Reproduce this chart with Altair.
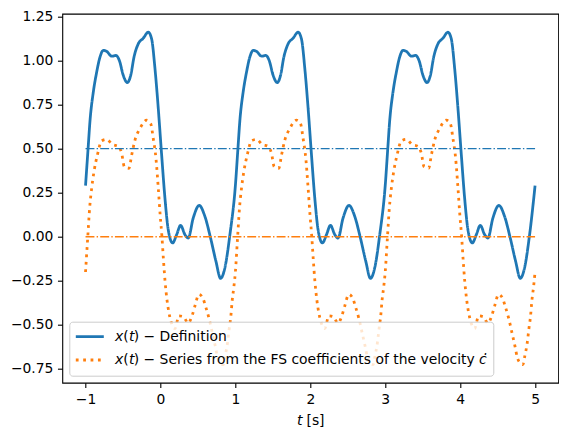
import altair as alt
import pandas as pd

# ---- x(t) - Definition ----
t_def = [
    -1.000, -0.966, -0.940, -0.896, -0.851, -0.807, -0.762, -0.717, -0.651, -0.593, -0.549, -0.496, -0.442,
    -0.397, -0.353, -0.296, -0.229, -0.163, -0.118, -0.073, -0.029, 0.016, 0.060, 0.104, 0.162, 0.216,
    0.269, 0.327, 0.371, 0.437, 0.517, 0.593, 0.669, 0.740, 0.803, 0.860, 0.927,
    1.000, 1.034, 1.060, 1.104, 1.149, 1.193, 1.238, 1.283, 1.349, 1.407, 1.451, 1.504, 1.558,
    1.603, 1.647, 1.704, 1.771, 1.837, 1.882, 1.927, 1.971, 2.016, 2.060, 2.104, 2.162, 2.216,
    2.269, 2.327, 2.371, 2.437, 2.517, 2.593, 2.669, 2.740, 2.803, 2.860, 2.927,
    3.000, 3.034, 3.060, 3.104, 3.149, 3.193, 3.238, 3.283, 3.349, 3.407, 3.451, 3.504, 3.558,
    3.603, 3.647, 3.704, 3.771, 3.837, 3.882, 3.927, 3.971, 4.016, 4.060, 4.104, 4.162, 4.216,
    4.269, 4.327, 4.371, 4.437, 4.517, 4.593, 4.669, 4.740, 4.803, 4.860, 4.927, 5.000,
]
x_def = [
    0.290, 0.500, 0.660, 0.822, 0.935, 1.020, 1.058, 1.052, 1.025, 1.029, 1.001, 0.916, 0.875,
    0.916, 1.020, 1.095, 1.127, 1.161, 1.123, 0.954, 0.728, 0.464, 0.219, 0.040, -0.035, 0.012,
    0.065, 0.012, -0.007, 0.106, 0.178, 0.116, -0.007, -0.138, -0.236, -0.176, 0.012,
    0.290, 0.500, 0.660, 0.822, 0.935, 1.020, 1.058, 1.052, 1.025, 1.029, 1.001, 0.916, 0.875,
    0.916, 1.020, 1.095, 1.127, 1.161, 1.123, 0.954, 0.728, 0.464, 0.219, 0.040, -0.035, 0.012,
    0.065, 0.012, -0.007, 0.106, 0.178, 0.116, -0.007, -0.138, -0.236, -0.176, 0.012,
    0.290, 0.500, 0.660, 0.822, 0.935, 1.020, 1.058, 1.052, 1.025, 1.029, 1.001, 0.916, 0.875,
    0.916, 1.020, 1.095, 1.127, 1.161, 1.123, 0.954, 0.728, 0.464, 0.219, 0.040, -0.035, 0.012,
    0.065, 0.012, -0.007, 0.106, 0.178, 0.116, -0.007, -0.138, -0.236, -0.176, 0.012, 0.290,
]

# ---- x(t) - Series from the FS coefficients of the velocity ----
t_fs = [
    -1.000, -0.970, -0.945, -0.918, -0.887, -0.842, -0.784, -0.717, -0.642, -0.562, -0.518, -0.482, -0.420,
    -0.384, -0.340, -0.273, -0.184, -0.131, -0.096, -0.060, -0.029, -0.005, 0.020, 0.040, 0.062, 0.088,
    0.113, 0.140, 0.193, 0.247, 0.304, 0.371, 0.424, 0.460, 0.513, 0.563, 0.607, 0.651, 0.696,
    0.731, 0.763, 0.803, 0.837, 0.864, 0.896, 0.917, 0.940, 0.957, 0.980,
    1.000, 1.030, 1.055, 1.082, 1.113, 1.158, 1.216, 1.283, 1.358, 1.438, 1.482, 1.518, 1.580,
    1.616, 1.660, 1.727, 1.816, 1.869, 1.904, 1.940, 1.971, 1.995, 2.020, 2.040, 2.062, 2.088,
    2.113, 2.140, 2.193, 2.247, 2.304, 2.371, 2.424, 2.460, 2.513, 2.563, 2.607, 2.651, 2.696,
    2.731, 2.763, 2.803, 2.837, 2.864, 2.896, 2.917, 2.940, 2.957, 2.980,
    3.000, 3.030, 3.055, 3.082, 3.113, 3.158, 3.216, 3.283, 3.358, 3.438, 3.482, 3.518, 3.580,
    3.616, 3.660, 3.727, 3.816, 3.869, 3.904, 3.940, 3.971, 3.995, 4.020, 4.040, 4.062, 4.088,
    4.113, 4.140, 4.193, 4.247, 4.304, 4.371, 4.424, 4.460, 4.513, 4.563, 4.607, 4.651, 4.696,
    4.731, 4.763, 4.803, 4.837, 4.864, 4.896, 4.917, 4.940, 4.957, 4.980, 5.000,
]
x_fs = [
    -0.200, 0.000, 0.163, 0.276, 0.370, 0.464, 0.545, 0.553, 0.524, 0.513, 0.474, 0.398, 0.389,
    0.464, 0.549, 0.615, 0.662, 0.643, 0.558, 0.445, 0.276, 0.130, 0.000, -0.130, -0.255, -0.360,
    -0.430, -0.480, -0.521, -0.449, -0.453, -0.490, -0.445, -0.393, -0.327, -0.346, -0.402, -0.468, -0.553,
    -0.619, -0.685, -0.717, -0.726, -0.675, -0.600, -0.524, -0.449, -0.364, -0.284,
    -0.200, 0.000, 0.163, 0.276, 0.370, 0.464, 0.545, 0.553, 0.524, 0.513, 0.474, 0.398, 0.389,
    0.464, 0.549, 0.615, 0.662, 0.643, 0.558, 0.445, 0.276, 0.130, 0.000, -0.130, -0.255, -0.360,
    -0.430, -0.480, -0.521, -0.449, -0.453, -0.490, -0.445, -0.393, -0.327, -0.346, -0.402, -0.468, -0.553,
    -0.619, -0.685, -0.717, -0.726, -0.675, -0.600, -0.524, -0.449, -0.364, -0.284,
    -0.200, 0.000, 0.163, 0.276, 0.370, 0.464, 0.545, 0.553, 0.524, 0.513, 0.474, 0.398, 0.389,
    0.464, 0.549, 0.615, 0.662, 0.643, 0.558, 0.445, 0.276, 0.130, 0.000, -0.130, -0.255, -0.360,
    -0.430, -0.480, -0.521, -0.449, -0.453, -0.490, -0.445, -0.393, -0.327, -0.346, -0.402, -0.468, -0.553,
    -0.619, -0.685, -0.717, -0.726, -0.675, -0.600, -0.524, -0.449, -0.364, -0.284, -0.200,
]

# horizontal reference lines (mean values)
mean_def = [0.5]
mean_fs = [0.0]
h_start = [-1.0]
h_end = [5.0]

x_ticks = [-1, 0, 1, 2, 3, 4, 5]
y_ticks = [-0.75, -0.5, -0.25, 0.0, 0.25, 0.5, 0.75, 1.0, 1.25]

lab_def = "\U0001D639(\U0001D635) \u2212 Definition"
lab_fs = "\U0001D639(\U0001D635) \u2212 Series from the FS coefficients of the velocity \U0001D624\u0307"
x_title = "\U0001D635 [s]"

BLUE = "#1f77b4"
ORANGE = "#ff7f0e"
FONT = "DejaVu Sans"

df = pd.concat([
    pd.DataFrame({"t": t_def, "x": x_def, "s": lab_def}),
    pd.DataFrame({"t": t_fs, "x": x_fs, "s": lab_fs}),
], ignore_index=True)
df_h1 = pd.DataFrame({"t0": h_start, "t1": h_end, "y": mean_def})
df_h2 = pd.DataFrame({"t0": h_start, "t1": h_end, "y": mean_fs})

xscale = alt.Scale(domain=[-1.31, 5.31], nice=False, zero=False)
yscale = alt.Scale(domain=[-0.828, 1.266], nice=False, zero=False)

xaxis = alt.Axis(values=x_ticks, format="d", title=x_title, grid=False, domain=False,
                 tickSize=4.86, tickColor="black", tickWidth=1.1, labelPadding=4.5,
                 labelFontSize=13.9, labelColor="black", labelFont=FONT,
                 titleFontSize=13.9, titleFontWeight="normal", titleColor="black",
                 titleFont=FONT, titlePadding=8)
yaxis = alt.Axis(values=y_ticks, format=".2f", title=None, grid=False, domain=False,
                 tickSize=4.86, tickColor="black", tickWidth=1.1, labelPadding=4.5,
                 labelFontSize=13.9, labelColor="black", labelFont=FONT)

leg = alt.Legend(title=None, orient="none", legendX=7, legendY=308,
                 fillColor="rgba(255,255,255,0.8)", strokeColor="#cccccc",
                 cornerRadius=3, padding=5, symbolType="stroke", symbolSize=784,
                 symbolStrokeWidth=2.78, labelFontSize=13.9, labelFont=FONT,
                 labelColor="black", labelOffset=10, rowPadding=3.3, clipHeight=20,
                 labelLimit=1000)

lines = alt.Chart(df).mark_line(strokeWidth=2.78, interpolate="monotone", clip=True).encode(
    x=alt.X("t:Q", scale=xscale, axis=xaxis),
    y=alt.Y("x:Q", scale=yscale, axis=yaxis),
    color=alt.Color("s:N", scale=alt.Scale(domain=[lab_def, lab_fs], range=[BLUE, ORANGE]), legend=leg),
    strokeDash=alt.StrokeDash("s:N", scale=alt.Scale(domain=[lab_def, lab_fs], range=[[1, 0], [2.78, 4.6]]), legend=leg),
)

dashdot = [8.9, 2.2, 1.4, 2.2]
h1 = alt.Chart(df_h1).mark_rule(strokeWidth=1.39, strokeDash=dashdot, color=BLUE).encode(
    x=alt.X("t0:Q", scale=xscale), x2="t1:Q", y=alt.Y("y:Q", scale=yscale))
h2 = alt.Chart(df_h2).mark_rule(strokeWidth=1.39, strokeDash=dashdot, color=ORANGE).encode(
    x=alt.X("t0:Q", scale=xscale), x2="t1:Q", y=alt.Y("y:Q", scale=yscale))

chart = alt.layer(lines, h1, h2).properties(
    width=496, height=369,
    autosize=alt.AutoSizeParams(type="none"),
    padding={"left": 54.3, "top": 5.7, "right": 0.5, "bottom": 50},
    background="white",
).configure(font=FONT).configure_view(stroke="black", strokeWidth=1.1)

chart.save("out.html", embed_options={"renderer": "svg", "actions": False})
